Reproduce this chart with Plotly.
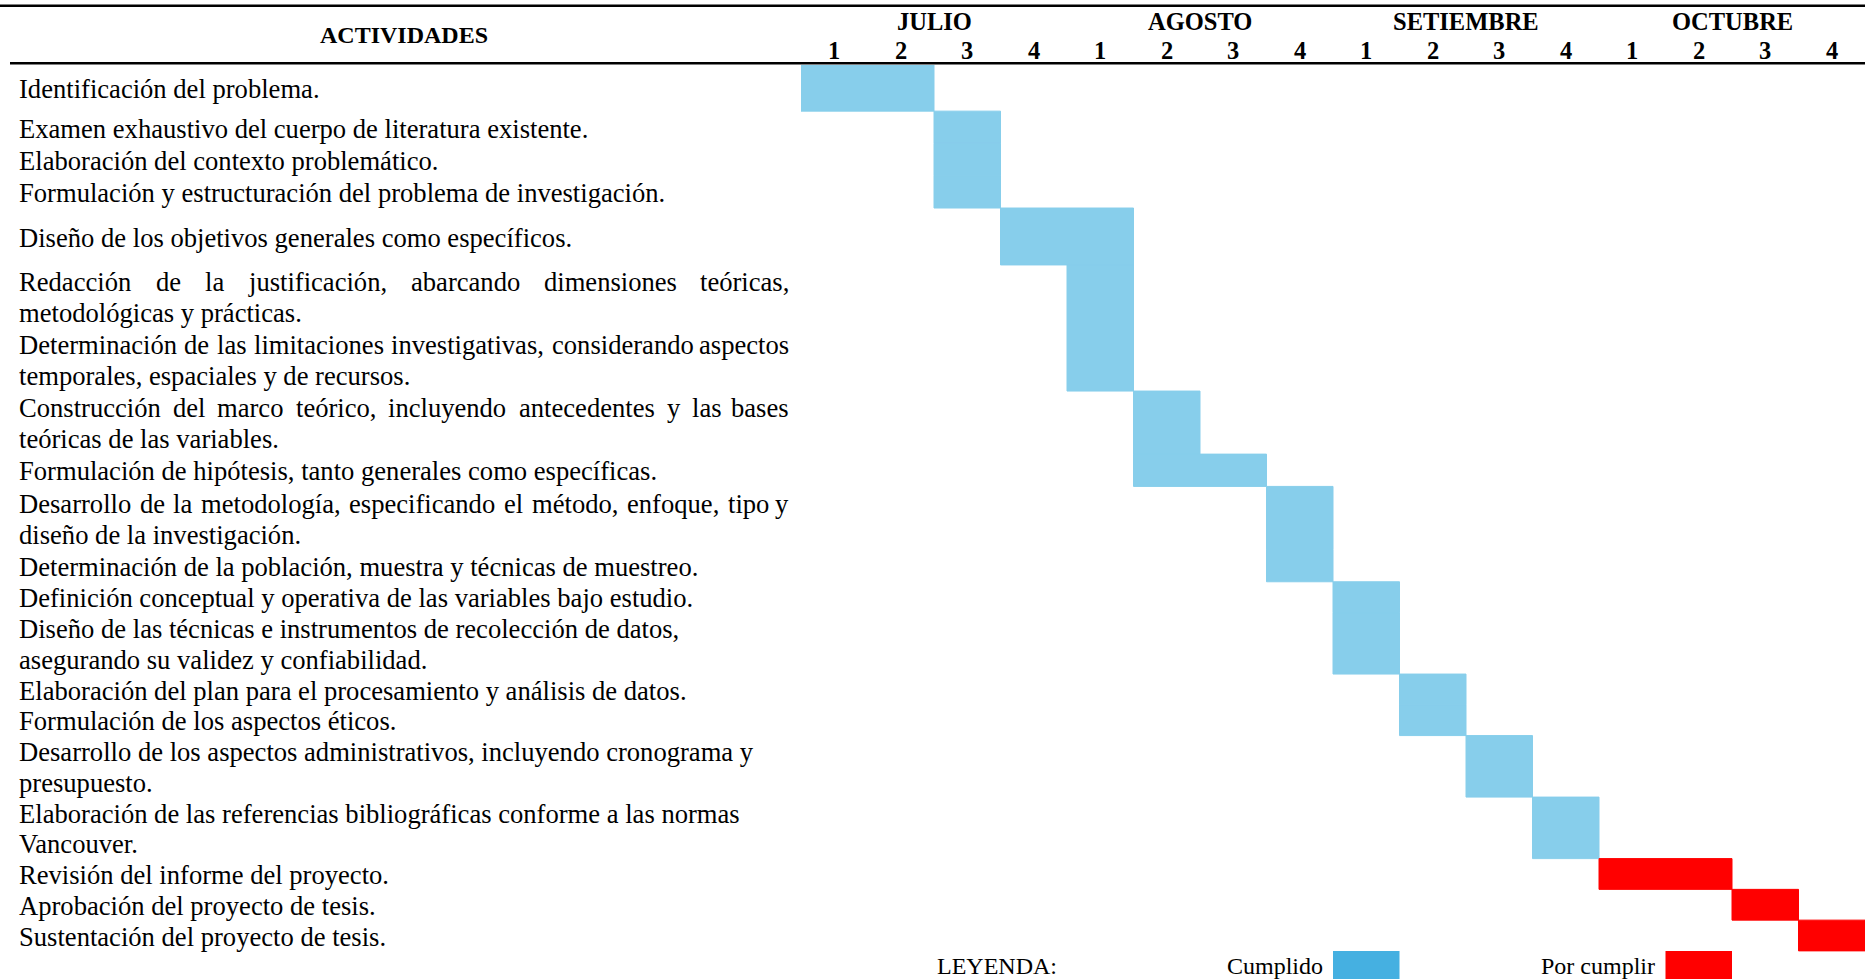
import plotly.graph_objects as go

# ---------------- datos del cronograma ----------------
actividades = [
    "Identificación del problema.",
    "Examen exhaustivo del cuerpo de literatura existente.",
    "Elaboración del contexto problemático.",
    "Formulación y estructuración del problema de investigación.",
    "Diseño de los objetivos generales como específicos.",
    "Redacción de la justificación, abarcando dimensiones teóricas,\nmetodológicas y prácticas.",
    "Determinación de las limitaciones investigativas, considerando aspectos\ntemporales, espaciales y de recursos.",
    "Construcción del marco teórico, incluyendo antecedentes y las bases\nteóricas de las variables.",
    "Formulación de hipótesis, tanto generales como específicas.",
    "Desarrollo de la metodología, especificando el método, enfoque, tipo y\ndiseño de la investigación.",
    "Determinación de la población, muestra y técnicas de muestreo.",
    "Definición conceptual y operativa de las variables bajo estudio.",
    "Diseño de las técnicas e instrumentos de recolección de datos,\nasegurando su validez y confiabilidad.",
    "Elaboración del plan para el procesamiento y análisis de datos.",
    "Formulación de los aspectos éticos.",
    "Desarrollo de los aspectos administrativos, incluyendo cronograma y\npresupuesto.",
    "Elaboración de las referencias bibliográficas conforme a las normas\nVancouver.",
    "Revisión del informe del proyecto.",
    "Aprobación del proyecto de tesis.",
    "Sustentación del proyecto de tesis.",
]
semana_inicio = [1, 3, 3, 3, 4, 5, 5, 6, 6, 8, 8, 9, 9, 10, 10, 11, 12, 13, 15, 16]
semana_fin    = [2, 3, 3, 3, 5, 5, 5, 6, 7, 8, 8, 9, 9, 10, 10, 11, 12, 14, 15, 16]
estado = ["Cumplido"] * 17 + ["Por cumplir"] * 3
meses = ["JULIO", "AGOSTO", "SETIEMBRE", "OCTUBRE"]
semanas_mes = ["1", "2", "3", "4"]
leyenda = ["Cumplido", "Por cumplir"]

# ---------------- estilo y disposición ----------------
FUENTE = "Liberation Serif, Times New Roman, serif"
COLOR_BARRA = {"Cumplido": "#87CEEB", "Por cumplir": "#FF0000"}
COLOR_LEYENDA = {"Cumplido": "#45B0E1", "Por cumplir": "#FF0000"}
COL_LEYENDA = {"Cumplido": 9, "Por cumplir": 14}
ANCHO, ALTO = 1865, 979
MARGEN_IZQ = 801.0      # inicio de la cuadrícula de semanas (px)
MARGEN_SUP = 65.3       # inicio del cuerpo de la tabla (px)
LINEA = 30.75           # alto de una línea de texto (px)
TAM_TEXTO = 26.6
TAM_CAB = 24.5
TAM_LEY = 24
X_IZQ, X_DER = 18.0, 790.0   # columna de actividades (px)
AJUSTE_V = 0.04              # corrección vertical del texto (líneas)
ESPACIO_EXTRA = {0: 0.5, 4: 0.85}
for _i in (1, 2, 3, 5, 6, 7, 8, 9, 10):
    ESPACIO_EXTRA[_i] = 0.05
JUSTIFICADAS = {5, 6, 7, 9}   # filas cuya primera línea va justificada

# anchos de glifo (Times, milésimas de em)
ANCHOS = {
    " ": 250, ",": 250, ".": 250,
    "a": 444, "b": 500, "c": 444, "d": 500, "e": 444, "f": 333, "g": 500,
    "h": 500, "i": 278, "j": 278, "k": 500, "l": 278, "m": 778, "n": 500,
    "o": 500, "p": 500, "q": 500, "r": 333, "s": 389, "t": 278, "u": 500,
    "v": 500, "w": 722, "x": 500, "y": 500, "z": 444,
    "á": 444, "é": 444, "í": 278, "ó": 500, "ú": 500, "ñ": 500,
    "C": 667, "D": 722, "R": 667, "E": 611, "F": 556,
}


def ancho_texto(s, tam):
    return sum(ANCHOS.get(c, 500) for c in s) * tam / 1000.0


def px_x(p):
    return (p - MARGEN_IZQ) / (ANCHO - MARGEN_IZQ)


def px_y(p):
    return (ALTO - p) / (ALTO - MARGEN_SUP)


n_sem = len(meses) * len(semanas_mes)
lineas = [a.split("\n") for a in actividades]
alto_fila = [len(l) + ESPACIO_EXTRA.get(i, 0.0) for i, l in enumerate(lineas)]
techo = [sum(alto_fila[:i]) for i in range(len(alto_fila))]
centro = [t + h / 2 for t, h in zip(techo, alto_fila)]
total = sum(alto_fila)
y_max = (ALTO - MARGEN_SUP) / LINEA

fig = go.Figure()

# barras del cronograma (el borde del mismo color cierra las juntas)
for est in leyenda:
    idx = [i for i, e in enumerate(estado) if e == est]
    fig.add_trace(go.Bar(
        orientation="h",
        y=[centro[i] for i in idx],
        x=[semana_fin[i] - semana_inicio[i] + 1 for i in idx],
        base=[semana_inicio[i] - 0.5 for i in idx],
        width=[alto_fila[i] for i in idx],
        marker=dict(color=COLOR_BARRA[est],
                    line=dict(width=1, color=COLOR_BARRA[est])),
        name=est,
        showlegend=False,
        hoverinfo="name",
    ))

anotaciones = []


def texto(t, x, y, xref="paper", yref="y", tam=TAM_TEXTO, negrita=False,
          xanchor="left"):
    anotaciones.append(dict(
        text=f"<b>{t}</b>" if negrita else t,
        x=x, y=y, xref=xref, yref=yref,
        xanchor=xanchor, yanchor="middle",
        showarrow=False, borderpad=0,
        font=dict(family=FUENTE, size=tam, color="black"),
    ))


# textos de las actividades
for i, ls in enumerate(lineas):
    relleno = ESPACIO_EXTRA.get(i, 0.0) / 2
    for k, linea in enumerate(ls):
        yc = techo[i] + relleno + k + 0.5 + AJUSTE_V
        if k == 0 and i in JUSTIFICADAS and len(ls) > 1:
            palabras = linea.split(" ")
            anchos = [ancho_texto(p, TAM_TEXTO) for p in palabras]
            hueco = (X_DER - X_IZQ - sum(anchos)) / (len(palabras) - 1)
            xp = X_IZQ
            for j, (p, w) in enumerate(zip(palabras, anchos)):
                if j == len(palabras) - 1:
                    texto(p, px_x(X_DER), yc, xanchor="right")
                else:
                    texto(p, px_x(xp), yc)
                xp += w + hueco
        else:
            texto(linea, px_x(X_IZQ), yc)

# encabezado
texto("ACTIVIDADES", px_x(404), px_y(35.5), yref="paper", tam=24,
      negrita=True, xanchor="center")
for m, mes in enumerate(meses):
    texto(mes, m * len(semanas_mes) + (len(semanas_mes) + 1) / 2, px_y(22),
          xref="x", yref="paper", tam=TAM_CAB, negrita=True, xanchor="center")
    for s, sem in enumerate(semanas_mes):
        texto(sem, m * len(semanas_mes) + s + 1, px_y(51), xref="x",
              yref="paper", tam=TAM_CAB, negrita=True, xanchor="center")

formas = [
    dict(type="line", xref="paper", yref="paper", x0=px_x(0), x1=1,
         y0=px_y(6), y1=px_y(6), line=dict(color="black", width=2.6)),
    dict(type="line", xref="paper", yref="paper", x0=px_x(10), x1=1,
         y0=px_y(63.6), y1=px_y(63.6), line=dict(color="black", width=2.6)),
]

# leyenda
y_ley = total + 0.5
texto("LEYENDA:", 3.45, y_ley, xref="x", tam=TAM_LEY, xanchor="center")
for est in leyenda:
    c = COL_LEYENDA[est]
    texto(est, c - 0.5 - 0.14, y_ley, xref="x", tam=TAM_LEY, xanchor="right")
    formas.append(dict(type="rect", xref="x", yref="y", x0=c - 0.5, x1=c + 0.5,
                       y0=total, y1=total + 1, line=dict(width=0),
                       fillcolor=COLOR_LEYENDA[est], layer="above"))

fig.update_layout(
    width=ANCHO, height=ALTO,
    margin=dict(l=MARGEN_IZQ, r=0, t=MARGEN_SUP, b=0, pad=0),
    paper_bgcolor="white", plot_bgcolor="white",
    barmode="overlay",
    xaxis=dict(range=[0.5, n_sem + 0.5], visible=False, fixedrange=True),
    yaxis=dict(range=[y_max, 0], visible=False, fixedrange=True),
    annotations=anotaciones,
    shapes=formas,
    font=dict(family=FUENTE, color="black"),
)

fig.write_html("out.html", config={"displayModeBar": False})
